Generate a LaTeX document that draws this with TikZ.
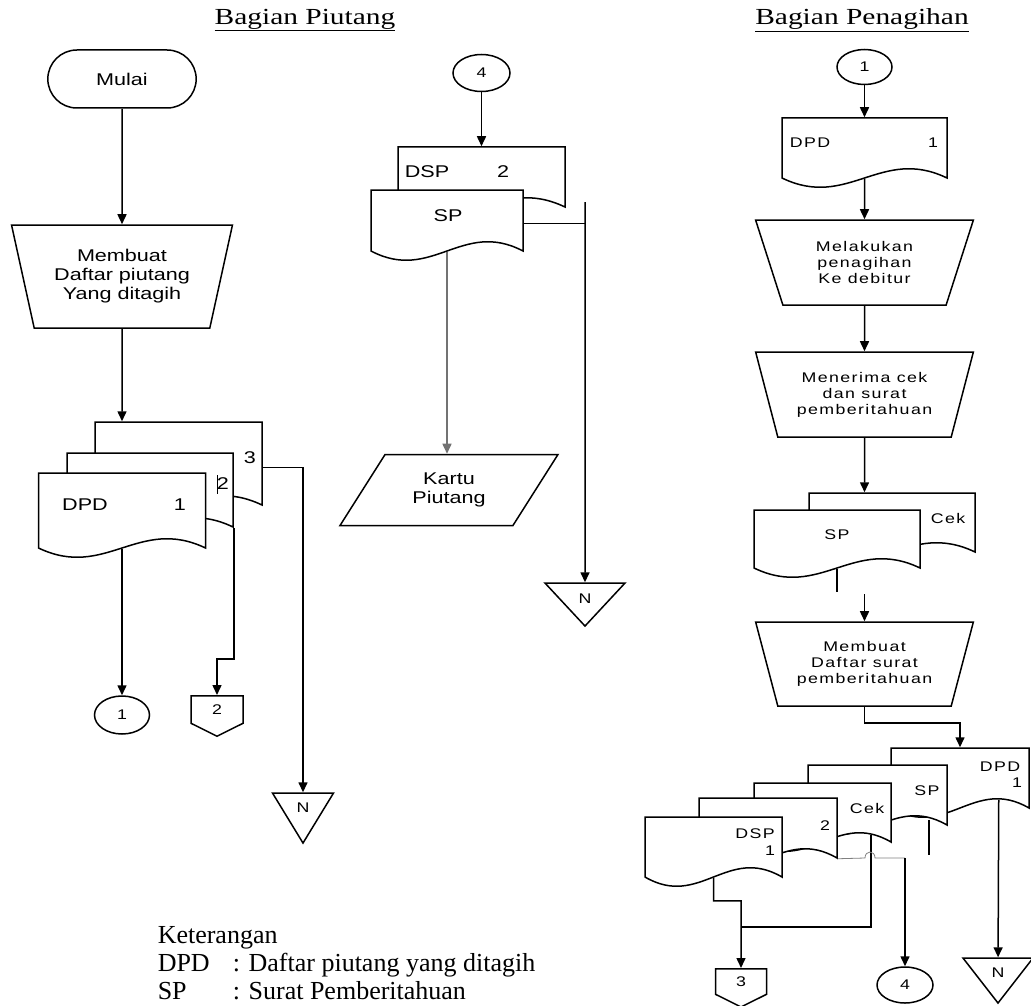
\documentclass[tikz,border=0pt]{standalone}
\usepackage{fontspec}
\setmainfont{Liberation Serif}
\newfontfamily\flowfont[FakeStretch=1.27]{Liberation Sans}
\newfontfamily\flowspaced[FakeStretch=1.27,LetterSpace=10]{Liberation Sans}
\newfontfamily\judulfont[FakeStretch=1.28]{Liberation Serif}
\usetikzlibrary{
  arrows.meta,
  calc,
  positioning,
  shapes.geometric,
  shapes.misc,
  shapes.symbols
}
\newcommand\flowtext{\flowfont\fontsize{17}{19}\selectfont}
\newcommand\flowsp{\flowspaced\fontsize{14}{16}\selectfont}
\newcommand\flowkecil{\flowfont\fontsize{14}{16}\selectfont}
\newcommand\judultext{\judulfont\fontsize{23}{26}\selectfont}
\newcommand\kettext{\fontsize{26}{30}\selectfont}
% document symbol: name, x, y (top left), width, height
\newcommand\dokumen[5]{%
  \draw[docline] (#2,#3) -- ++(#4,0) -- ++(0,#5)
    .. controls +(-0.4*#4,-32) and +(0.4*#4,32) .. ++(-#4,0) -- cycle;
  \node[docarea, minimum width=#4pt, minimum height=#5pt] (#1) at ({#2+#4/2},{#3+#5/2}) {};
}
\tikzset{
  >={Triangle[length=10pt,width=9pt]},
  line join=round,
  every picture/.style={line width=1.5pt},
  judul/.style={inner sep=0pt, font=\judultext},
  terminal/.style={draw, rounded rectangle, minimum width=155pt, minimum height=58pt, font=\flowtext},
  manual/.style={draw, trapezium, trapezium stretches=true, shape border rotate=180, align=center, inner sep=0pt},
  konektor/.style={draw, ellipse, inner sep=0pt, minimum width=55pt, minimum height=38pt, font=\flowkecil},
  offpage/.style={draw, signal, signal to=south, signal pointer angle=127, inner sep=0pt, minimum width=52pt, font=\flowkecil, anchor=north},
  merge/.style={draw, isosceles triangle, isosceles triangle stretches, shape border rotate=-90, inner sep=0pt, font=\flowkecil},
  inout/.style={draw, trapezium, trapezium left angle=53, trapezium right angle=127, trapezium stretches=true, align=center, inner sep=0pt, font=\flowtext},
  docline/.style={draw, fill=white},
  docarea/.style={inner sep=0pt, draw=none},
  teks/.style={inner sep=0pt, font=\flowtext},
  tekssp/.style={inner sep=0pt, font=\flowsp},
  ket/.style={inner sep=0pt, anchor=base west, font=\kettext}
}

\begin{document}
\begin{tikzpicture}[x=1pt,y=-1pt]
  \useasboundingbox (0,0) rectangle (1031,1006);

  \node[judul] (jPiutang) at (305,20) {\underline{Bagian Piutang}};
  \node[judul] (jTagih) at (862,20) {\underline{Bagian Penagihan}};

  % Bagian Piutang
  \node[terminal] (mulai) at (122,79) {Mulai};
  \node[manual, trapezium angle=72, minimum width=221pt, minimum height=103pt, font=\flowtext] (buatDPD) at (122,276.5) {Membuat\\Daftar piutang\\Yang ditagih};

  \dokumen{dpdC}{95}{422}{167}{83}
  \dokumen{dpdB}{67}{453}{166}{74}
  \dokumen{dpdA}{38.5}{473}{167}{75}
  \node[teks] (dpdA-n) at (85,505) {DPD};
  \node[teks] (dpdA-k) at (180,505) {1};
  \node[teks] (dpdB-k) at (223,484) {2};
  \node[teks] (dpdC-k) at (250,458) {3};
  \draw[line width=1pt] (217,475) -- (217,494);

  \node[konektor] (konA) at (122,715) {1};
  \node[offpage, minimum height=30pt] (offB) at (217,695) {2};
  \node[merge, minimum width=61pt, minimum height=50pt, anchor=apex] (mergeA) at (303,845) {N};

  \draw[->] (mulai) -- (buatDPD);
  \draw[->] (buatDPD) -- (buatDPD |- dpdC.north);
  \draw[->] (dpdA) -- (konA);
  \draw[->] (dpdB.south east) -- ++(0,131) -| (offB);
  \draw[->] ($(dpdC.north east)+(0,46)$) -| (mergeA);

  % tengah
  \node[konektor, minimum width=57pt, minimum height=37pt] (konD) at (481.5,73) {4};
  \dokumen{dspM}{398}{147}{167}{60}
  \dokumen{spM}{371}{190}{152}{61}
  \node[teks] (dspM-n) at (427,172) {DSP};
  \node[teks] (dspM-k) at (503,172) {2};
  \node[teks] (spM-n) at (448,216) {SP};
  \node[inout, minimum width=218pt, minimum height=71pt] (kartu) at (449,490) {Kartu\\Piutang};
  \node[merge, minimum width=80pt, minimum height=43pt, anchor=apex] (mergeM) at (585,628) {N};
  \coordinate (dspOut) at (585,202);
  \coordinate (spOut) at ($(spM.north east)+(0,34)$);

  \draw[->] (konD) -- (dspM);
  \draw[->] (dspOut) -- (mergeM);
  \draw (spOut) -- (spOut -| dspOut);
  \draw[->, draw=black!55] (spM) -- (spM |- kartu.north);

  % Bagian Penagihan
  \node[konektor, minimum height=35pt] (konR1) at (864.5,67) {1};
  \dokumen{dpdR}{782}{118}{165}{60}
  \node[tekssp] (dpdR-n) at (810,143) {DPD};
  \node[tekssp] (dpdR-k) at (933,143) {1};
  \node[manual, trapezium angle=69, minimum width=218pt, minimum height=85pt, font=\flowsp] (tagih) at (864.5,262.5) {Melakukan\\penagihan\\Ke debitur};
  \node[manual, trapezium angle=69, minimum width=218pt, minimum height=85pt, font=\flowsp] (terima) at (864.5,394.5) {Menerima cek\\dan surat\\pemberitahuan};
  \dokumen{cekR}{809}{493}{166}{59}
  \dokumen{spR}{754}{510}{166}{58}
  \node[tekssp] (cekR-n) at (948,518) {Cek};
  \node[tekssp] (spR-n) at (837,535) {SP};
  \coordinate (gapR) at (864.5,594);
  \node[manual, trapezium angle=69, minimum width=218pt, minimum height=84pt, font=\flowsp] (buatDSP) at (864.5,664) {Membuat\\Daftar surat\\pemberitahuan};

  \draw[->] (konR1) -- (dpdR);
  \draw[->] (dpdR) -- (tagih);
  \draw[->] (tagih) -- (terima);
  \draw[->] (terima) -- (terima |- cekR.north);
  \draw (spR.south) -- ++(0,23);
  \draw[->] (gapR) -- (buatDSP);

  \dokumen{dpdS}{891}{748}{138}{60}
  \dokumen{spS}{808}{765}{139}{60}
  \dokumen{cekS}{754}{783}{137}{59}
  \dokumen{twoS}{699}{798}{138}{60}
  \dokumen{dspS}{645}{817}{137}{60}
  \node[tekssp] (dpdS-n) at (1000,767) {DPD};
  \node[tekssp] (dpdS-k) at (1017,783) {1};
  \node[tekssp] (spS-n) at (927,791) {SP};
  \node[tekssp] (cekS-n) at (867,808) {Cek};
  \node[tekssp] (twoS-k) at (825,826) {2};
  \node[tekssp] (dspS-n) at (755,834) {DSP};
  \node[tekssp] (dspS-k) at (770,851) {1};

  \node[offpage, minimum width=51pt, minimum height=28pt] (off3) at (741,968) {3};
  \node[konektor, minimum width=56pt, minimum height=36pt] (konS4) at (905,985) {4};
  \node[merge, minimum width=70pt, minimum height=45pt, anchor=apex] (mergeS) at (998,1005) {N};
  \coordinate (gabung3) at (741,927);
  \coordinate (belok4) at (905,858);

  \draw[->] (buatDSP.south) -- ++(0,16) -| (dpdS);
  \draw[->] (dspS.south) -- ++(0,23) -| (gabung3) -- (off3);
  \draw ($(cekS.south east)+(-21,-8)$) |- (gabung3);
  \draw[draw=black!50, line width=.8pt] (twoS.south east) -- (865,858)
    .. controls (865,850) and (875,850) .. (875,858) -- (belok4);
  \draw[->] (belok4) -- (konS4);
  \draw ($(spS.south east)+(-19,-6)$) -- ++(0,35);
  \draw[->] ($(dpdS.south east)+(-31,-9)$) -- (mergeS);

  % keterangan
  \node[ket] (ket) at (157,943) {Keterangan};
  \node[ket] (ketDPD) at (157,971) {DPD};
  \node[ket] (ketDPD-a) at (232,971) {: Daftar piutang yang ditagih};
  \node[ket] (ketSP) at (157,999) {SP};
  \node[ket] (ketSP-a) at (232,999) {: Surat Pemberitahuan};
\end{tikzpicture}
\end{document}
